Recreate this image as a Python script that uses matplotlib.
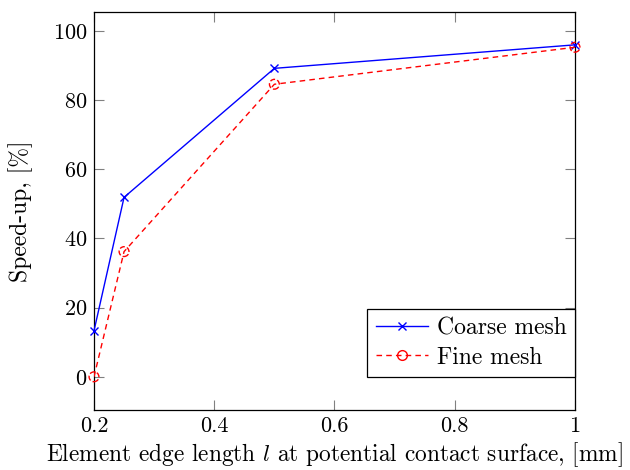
import matplotlib.pyplot as plt
from matplotlib.ticker import FuncFormatter

plt.rcParams["font.family"] = "serif"
plt.rcParams["font.serif"] = ["cmr10"]
plt.rcParams["mathtext.fontset"] = "cm"
plt.rcParams["axes.formatter.use_mathtext"] = True
plt.rcParams["font.size"] = 16

# data
edge_len = [0.2, 0.25, 0.5, 1.0]
coarse = [13.3, 51.9, 89.2, 96.0]
fine = [0.0, 36.2, 84.6, 95.3]

fig = plt.figure(figsize=(6.3, 4.7), dpi=100)
ax = fig.add_axes([0.1492, 0.1277, 0.7635, 0.8468])

ax.plot(edge_len, coarse, color="blue", lw=1, marker="x", ms=6, mew=1,
        label="Coarse mesh", clip_on=False, zorder=3)
ax.plot(edge_len, fine, color="red", lw=1, ls=(0, (4, 3)), zorder=3)
ax.scatter(edge_len, fine, s=50, facecolors="none", edgecolors="red",
           linewidths=1, linestyles="--", clip_on=False, zorder=3)
# legend proxy for the dashed line with open circle
ax.plot([], [], color="red", lw=1, ls=(0, (4, 3)), marker="o", ms=7,
        mfc="none", mec="red", label="Fine mesh")

ax.set_xlim(0.2, 1.0)
ax.set_ylim(-9.6, 105.5)
ax.set_xticks([0.2, 0.4, 0.6, 0.8, 1.0])
ax.set_yticks([0, 20, 40, 60, 80, 100])
ax.xaxis.set_major_formatter(FuncFormatter(lambda v, p: f"{v:g}"))
ax.tick_params(direction="in", length=7, color="gray", top=True, right=True,
               labelsize=16, pad=5)
for s in ax.spines.values():
    s.set_linewidth(0.9)

ax.set_xlabel("Element edge length $l$ at potential contact surface, [mm]",
              fontsize=16.8, labelpad=3)
ax.set_ylabel("Speed-up, [%]", fontsize=17, labelpad=14)

leg = ax.legend(loc="lower right", bbox_to_anchor=(1.0, 0.083),
                fancybox=False, edgecolor="black", framealpha=1,
                borderaxespad=0, handlelength=2.2, handletextpad=0.4,
                fontsize=17, labelspacing=0.3, borderpad=0.35)
leg.get_frame().set_linewidth(0.9)

fig.savefig("out.png", dpi=100)
